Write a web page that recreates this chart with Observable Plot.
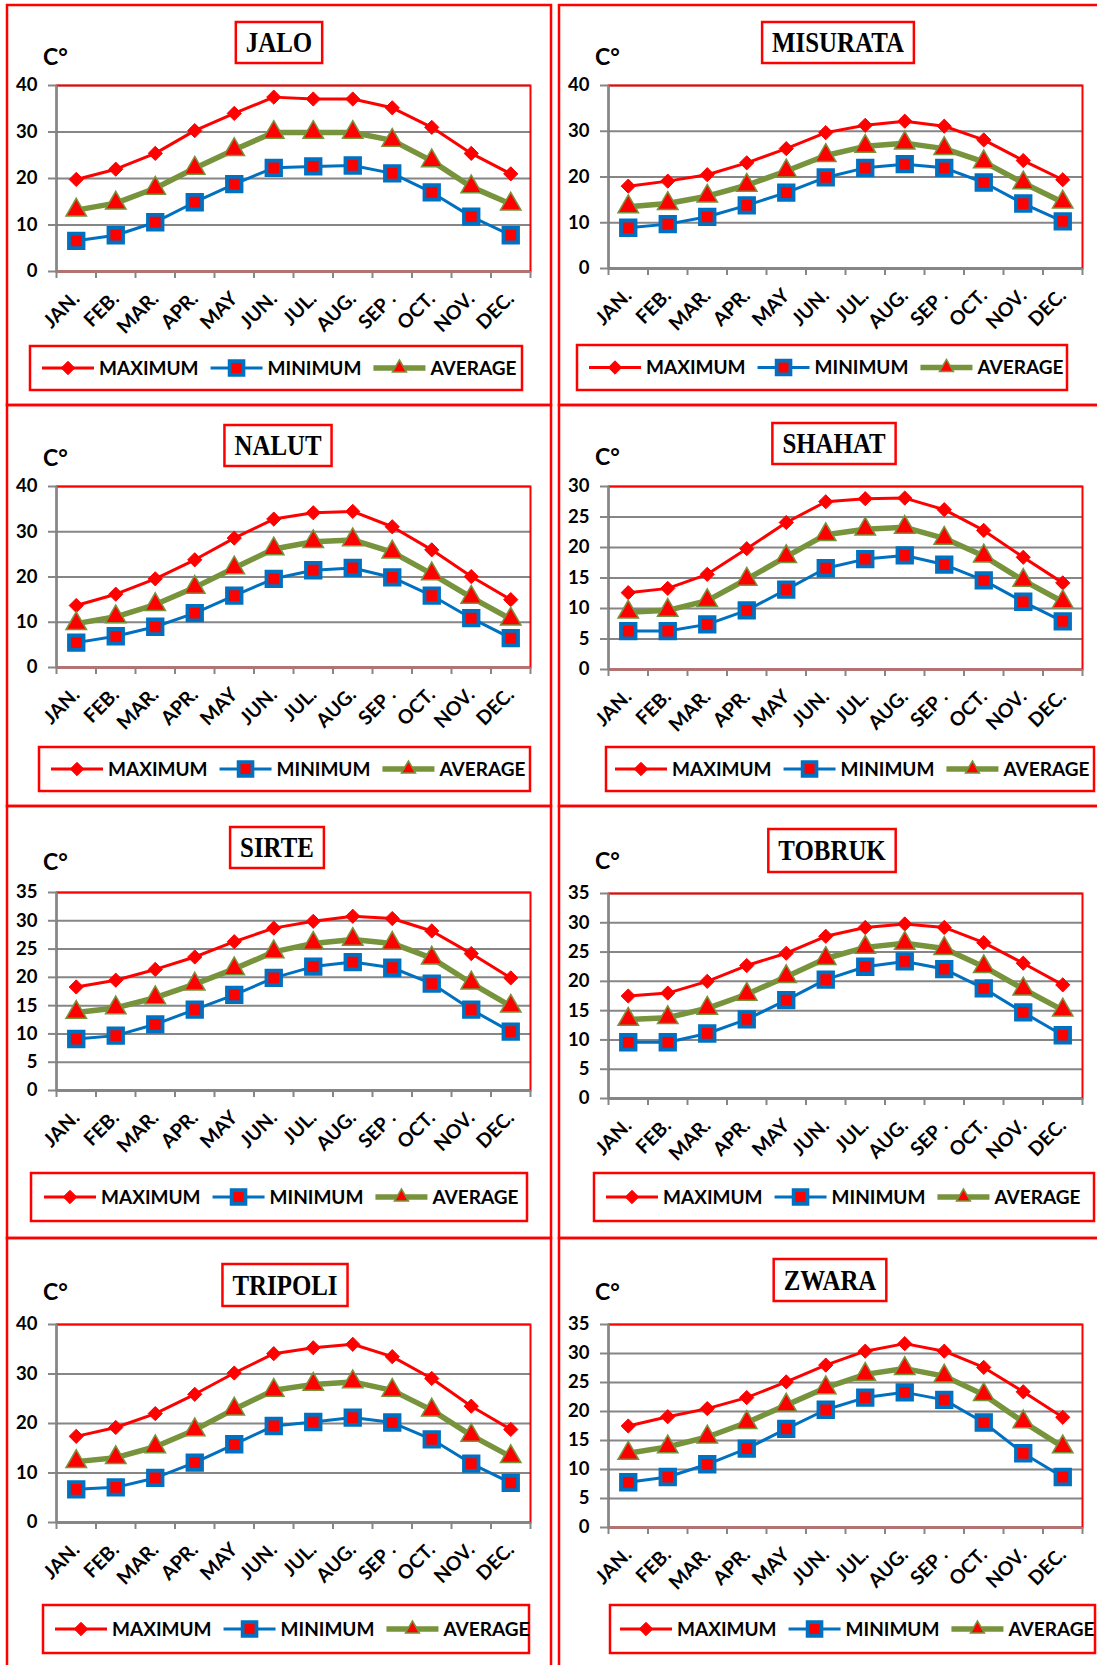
<!DOCTYPE html>
<html>
<head>
<meta charset="utf-8">
<script src="https://cdn.jsdelivr.net/npm/d3@7"></script>
<script src="https://cdn.jsdelivr.net/npm/@observablehq/plot@0.6"></script>
<style>
  body { margin: 0; background: #fff; }
  #page { position: relative; width: 1097px; height: 1665px; overflow: hidden; background: #fff; }
  .chart { position: absolute; }
  #overlay { position: absolute; left: 0; top: 0; }
</style>
</head>
<body>
<div id="page"></div>
<script>
// ---------------- DATA ----------------
const months = ["JAN.", "FEB.", "MAR.", "APR.", "MAY", "JUN.", "JUL.", "AUG.", "SEP .", "OCT.", "NOV.", "DEC."];
const seriesNames = ["MAXIMUM", "MINIMUM", "AVERAGE"];
const stations = ["JALO", "MISURATA", "NALUT", "SHAHAT", "SIRTE", "TOBRUK", "TRIPOLI", "ZWARA"];
const yAxisMax = [40, 40, 40, 30, 35, 35, 40, 35];
const yAxisStep = [10, 10, 10, 5, 5, 5, 10, 5];
const unitLabel = "C°";

const jaloMax = [19.8, 22.0, 25.4, 30.3, 34.0, 37.5, 37.1, 37.1, 35.2, 31.0, 25.4, 21.0];
const jaloMin = [6.6, 7.8, 10.6, 14.9, 18.8, 22.3, 22.6, 22.8, 21.1, 17.0, 11.8, 7.8];
const jaloAvg = [13.2, 14.7, 17.9, 22.2, 26.2, 29.9, 29.9, 29.9, 28.2, 23.8, 18.2, 14.5];

const misurataMax = [18.0, 19.1, 20.5, 23.1, 26.2, 29.7, 31.3, 32.2, 31.1, 28.1, 23.6, 19.4];
const misurataMin = [8.9, 9.7, 11.3, 13.8, 16.6, 19.9, 22.0, 22.8, 22.0, 18.8, 14.2, 10.3];
const misurataAvg = [13.5, 14.2, 15.8, 18.2, 21.3, 24.7, 26.7, 27.4, 26.2, 23.3, 18.7, 14.5];

const nalutMax = [13.7, 16.2, 19.6, 23.8, 28.6, 32.8, 34.2, 34.5, 31.1, 26.0, 20.1, 15.0];
const nalutMin = [5.5, 6.9, 9.0, 12.0, 15.9, 19.6, 21.5, 22.0, 19.9, 15.9, 10.9, 6.5];
const nalutAvg = [9.7, 11.2, 13.9, 17.7, 22.0, 26.2, 27.8, 28.2, 25.5, 20.7, 15.5, 10.7];

const shahatMax = [12.6, 13.3, 15.6, 19.8, 24.1, 27.5, 28.0, 28.1, 26.2, 22.8, 18.4, 14.2];
const shahatMin = [6.3, 6.3, 7.4, 9.7, 13.1, 16.6, 18.1, 18.7, 17.2, 14.6, 11.1, 7.9];
const shahatAvg = [9.4, 9.7, 11.3, 14.8, 18.5, 22.1, 23.0, 23.3, 21.5, 18.6, 14.6, 11.1];

const sirteMax = [18.3, 19.5, 21.4, 23.6, 26.3, 28.7, 29.9, 30.8, 30.4, 28.2, 24.2, 19.9];
const sirteMin = [9.1, 9.7, 11.7, 14.3, 16.9, 19.9, 21.9, 22.7, 21.7, 18.9, 14.3, 10.4];
const sirteAvg = [13.8, 14.6, 16.4, 18.8, 21.5, 24.5, 26.0, 26.7, 26.0, 23.4, 19.0, 14.9];

const tobrukMax = [17.5, 18.0, 20.0, 22.7, 24.8, 27.7, 29.2, 29.8, 29.2, 26.6, 23.1, 19.4];
const tobrukMin = [9.6, 9.6, 11.1, 13.5, 16.8, 20.3, 22.5, 23.4, 22.1, 18.8, 14.7, 10.8];
const tobrukAvg = [13.5, 13.8, 15.4, 17.8, 20.8, 23.9, 25.8, 26.5, 25.6, 22.5, 18.7, 15.1];

const tripoliMax = [17.4, 19.2, 22.0, 25.9, 30.2, 34.1, 35.3, 36.0, 33.5, 29.1, 23.5, 18.8];
const tripoliMin = [6.7, 7.1, 9.0, 12.1, 15.8, 19.5, 20.3, 21.2, 20.2, 16.8, 11.9, 8.0];
const tripoliAvg = [12.3, 13.1, 15.3, 18.7, 22.9, 26.7, 27.9, 28.4, 26.7, 22.7, 17.6, 13.3];

const zwaraMax = [17.5, 19.1, 20.5, 22.4, 25.1, 28.0, 30.4, 31.7, 30.4, 27.6, 23.4, 19.0];
const zwaraMin = [7.8, 8.7, 10.9, 13.6, 17.0, 20.3, 22.4, 23.3, 22.0, 18.1, 12.8, 8.7];
const zwaraAvg = [12.8, 13.9, 15.6, 18.1, 21.1, 24.1, 26.4, 27.4, 26.1, 22.9, 18.2, 13.9];

const stationSeries = [
  [jaloMax, jaloMin, jaloAvg],
  [misurataMax, misurataMin, misurataAvg],
  [nalutMax, nalutMin, nalutAvg],
  [shahatMax, shahatMin, shahatAvg],
  [sirteMax, sirteMin, sirteAvg],
  [tobrukMax, tobrukMin, tobrukAvg],
  [tripoliMax, tripoliMin, tripoliAvg],
  [zwaraMax, zwaraMin, zwaraAvg]
];

// ---------------- STYLE / LAYOUT ----------------
const COL = { red: "#FF0000", blue: "#0070C0", green: "#77933C", grid: "#868686" };
const columns = [
  { frameX: 7, frameR: 551, svgX: 0, svgW: 551, plotL: 56, plotR: 530 },
  { frameX: 559, frameR: 1106, svgX: 552, svgW: 545, plotL: 608, plotR: 1082 }
];
const rows = [
  { top: 5, bottom: 405 },
  { top: 405, bottom: 806 },
  { top: 806, bottom: 1238 },
  { top: 1238, bottom: 1672 }
];
const panels = [
  { col: 0, row: 0, plotTop: 85, plotBottom: 271, titleCx: 279, titleTop: 22, titleBottom: 63, cBase: 65, legX: 30, legR: 522, legTop: 346, legBottom: 390, legPad: 12 },
  { col: 1, row: 0, plotTop: 85, plotBottom: 268, titleCx: 838, titleTop: 22, titleBottom: 63, cBase: 65, legX: 577, legR: 1067, legTop: 345, legBottom: 390, legPad: 12 },
  { col: 0, row: 1, plotTop: 486, plotBottom: 667, titleCx: 278, titleTop: 425, titleBottom: 466, cBase: 466, legX: 39, legR: 530, legTop: 747, legBottom: 791, legPad: 12 },
  { col: 1, row: 1, plotTop: 486, plotBottom: 669, titleCx: 834, titleTop: 423, titleBottom: 464, cBase: 465, legX: 606, legR: 1094, legTop: 747, legBottom: 791, legPad: 9 },
  { col: 0, row: 2, plotTop: 892, plotBottom: 1090, titleCx: 277, titleTop: 827, titleBottom: 868, cBase: 870, legX: 31, legR: 527, legTop: 1173, legBottom: 1221, legPad: 13 },
  { col: 1, row: 2, plotTop: 893, plotBottom: 1098, titleCx: 832, titleTop: 829, titleBottom: 872, cBase: 869, legX: 594, legR: 1094, legTop: 1173, legBottom: 1221, legPad: 12 },
  { col: 0, row: 3, plotTop: 1324, plotBottom: 1522, titleCx: 285, titleTop: 1264, titleBottom: 1306, cBase: 1300, legX: 43, legR: 529, legTop: 1605, legBottom: 1653, legPad: 12 },
  { col: 1, row: 3, plotTop: 1324, plotBottom: 1527, titleCx: 830, titleTop: 1259, titleBottom: 1301, cBase: 1300, legX: 610, legR: 1095, legTop: 1605, legBottom: 1653, legPad: 10 }
];

const page = document.getElementById("page");

// ---------------- CHARTS (Observable Plot) ----------------
const MT = 30, MB = 100;
panels.forEach((p, k) => {
  const c = columns[p.col];
  const [smax, smin, savg] = stationSeries[k];
  const rowsData = months.map((m, i) => ({ x: i + 0.5, month: m, max: smax[i], min: smin[i], avg: savg[i] }));
  const yTicks = d3.range(0, yAxisMax[k] + 0.001, yAxisStep[k]);
  const chart = Plot.plot({
    width: c.svgW,
    height: MT + (p.plotBottom - p.plotTop) + MB,
    marginLeft: c.plotL - c.svgX,
    marginRight: c.svgX + c.svgW - c.plotR,
    marginTop: MT,
    marginBottom: MB,
    x: { domain: [0, 12], axis: null },
    y: { domain: [0, yAxisMax[k]], axis: null },
    style: { background: "transparent", overflow: "visible", fontFamily: "Lato, sans-serif", fontWeight: "bold", color: "#000" },
    marks: [
      Plot.ruleY(yTicks, { stroke: COL.grid, strokeWidth: 2 }),
      Plot.frame({ stroke: COL.red, strokeWidth: 2 }),
      Plot.ruleX([0], { stroke: COL.grid, strokeWidth: 2 }),
      Plot.ruleY([0], { stroke: COL.grid, strokeWidth: 2 }),
      Plot.axisY(yTicks, { tickSize: 8, tickPadding: 11, stroke: COL.grid, strokeWidth: 2, fontSize: 18.5, label: null }),
      Plot.axisX(d3.range(13), { tickSize: 7, tickFormat: () => "", stroke: COL.grid, strokeWidth: 2, label: null }),
      Plot.axisX(d3.range(12).map(i => i + 0.5), { tickSize: 0, tickPadding: 24, tickRotate: -45, tickFormat: d => months[Math.floor(d)], fontSize: 19.5, label: null }),
      Plot.line(rowsData, { x: "x", y: "max", stroke: COL.red, strokeWidth: 3 }),
      Plot.dot(rowsData, { x: "x", y: "max", symbol: "diamond2", r: 6.4, fill: COL.red, stroke: COL.red, strokeWidth: 1 }),
      Plot.line(rowsData, { x: "x", y: "min", stroke: COL.blue, strokeWidth: 3 }),
      Plot.dot(rowsData, { x: "x", y: "min", symbol: "square", r: 8.2, fill: COL.red, stroke: COL.blue, strokeWidth: 3.8 }),
      Plot.line(rowsData, { x: "x", y: "avg", stroke: COL.green, strokeWidth: 5.5 }),
      Plot.dot(rowsData, { x: "x", y: "avg", symbol: "triangle", r: 7.6, fill: COL.red, stroke: COL.green, strokeWidth: 1.5 })
    ]
  });
  chart.classList.add("chart");
  chart.style.left = c.svgX + "px";
  chart.style.top = (p.plotTop - MT) + "px";
  page.appendChild(chart);
});

// ---------------- DECORATION (frames, titles, unit, legends) ----------------
const svg = d3.select(page).append("svg").attr("id", "overlay")
  .attr("width", 1097).attr("height", 1665);

panels.forEach(p => {
  const c = columns[p.col], r = rows[p.row];
  svg.append("rect").attr("x", c.frameX).attr("y", r.top)
    .attr("width", c.frameR - c.frameX).attr("height", r.bottom - r.top)
    .attr("fill", "none").attr("stroke", COL.red).attr("stroke-width", 2.5);
});

const TITLE_SIZE = 30, TITLE_SX = 0.83;
panels.forEach((p, k) => {
  const c = columns[p.col];
  const g = svg.append("g");
  const rect = g.append("rect");
  const h = p.titleBottom - p.titleTop;
  const t = g.append("text")
    .attr("transform", `translate(${p.titleCx},${p.titleTop + (h + TITLE_SIZE * 0.64) / 2}) scale(${TITLE_SX},1)`)
    .attr("text-anchor", "middle")
    .style("font-family", "'Liberation Serif', 'DejaVu Serif', serif")
    .style("font-weight", "bold").style("font-size", TITLE_SIZE + "px").attr("fill", "#000")
    .text(stations[k]);
  const tw = t.node().getComputedTextLength() * TITLE_SX;
  rect.attr("x", p.titleCx - tw / 2 - 10).attr("y", p.titleTop)
    .attr("width", tw + 20).attr("height", h)
    .attr("fill", "#fff").attr("stroke", COL.red).attr("stroke-width", 2.5);

  svg.append("text").attr("x", c.plotL - 13).attr("y", p.cBase)
    .style("font-family", "Lato, sans-serif").style("font-weight", "bold").style("font-size", "23px")
    .attr("fill", "#000").text(unitLabel);

  const lg = svg.append("g");
  lg.append("rect").attr("x", p.legX).attr("y", p.legTop)
    .attr("width", p.legR - p.legX).attr("height", p.legBottom - p.legTop)
    .attr("fill", "#fff").attr("stroke", COL.red).attr("stroke-width", 2.5);
  const cy = (p.legTop + p.legBottom) / 2;
  let x = p.legX + p.legPad;
  const LINE = 52;
  const specs = [
    { stroke: COL.red, sw: 3, sym: d3.symbolDiamond2, size: 115, fill: COL.red, mstroke: COL.red, msw: 1 },
    { stroke: COL.blue, sw: 3, sym: d3.symbolSquare, size: 190, fill: COL.red, mstroke: COL.blue, msw: 3.8 },
    { stroke: COL.green, sw: 5.5, sym: d3.symbolTriangle, size: 85, fill: COL.red, mstroke: COL.green, msw: 1.5 }
  ];
  specs.forEach((s, j) => {
    lg.append("line").attr("x1", x).attr("x2", x + LINE).attr("y1", cy).attr("y2", cy)
      .attr("stroke", s.stroke).attr("stroke-width", s.sw);
    lg.append("path").attr("d", d3.symbol(s.sym, s.size)())
      .attr("transform", `translate(${x + LINE / 2},${cy})`)
      .attr("fill", s.fill).attr("stroke", s.mstroke).attr("stroke-width", s.msw);
    x += LINE + 5;
    const tx = lg.append("text").attr("x", x).attr("y", cy).attr("dy", "0.36em")
      .style("font-family", "Lato, sans-serif").style("font-weight", "bold").style("font-size", "19px")
      .attr("fill", "#000").text(seriesNames[j]);
    x += tx.node().getComputedTextLength() + 12;
  });
});
</script>
</body>
</html>
